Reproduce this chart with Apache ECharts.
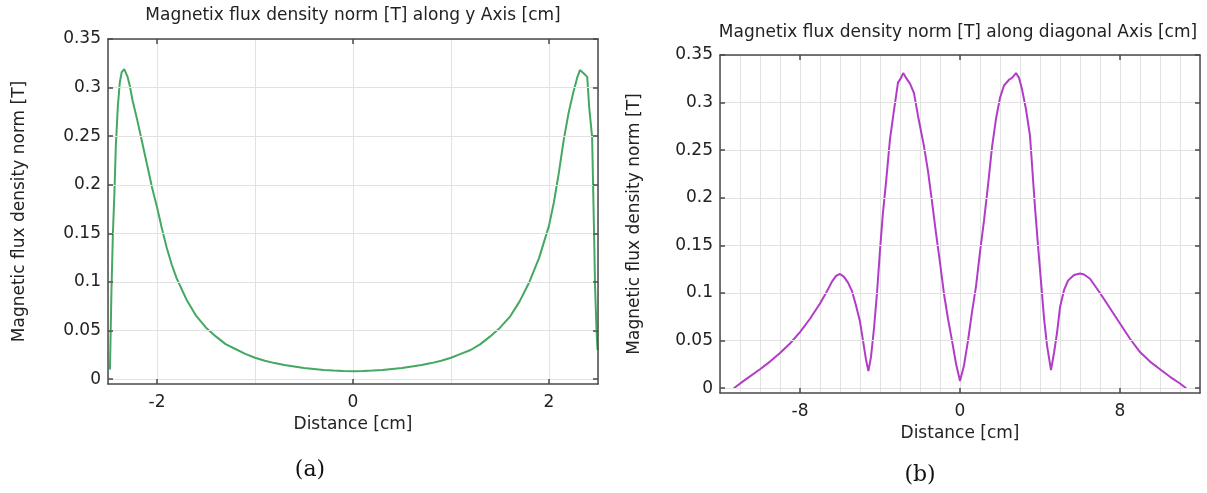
<!DOCTYPE html>
<html><head><meta charset="utf-8">
<script src="https://cdn.jsdelivr.net/npm/echarts@6/dist/echarts.min.js"></script>
<style>html,body{margin:0;padding:0;background:#fff}#c{width:1207px;height:493px}</style>
</head><body><div id="c"></div>
<script>
// (a) along y axis
const distA = [-2.48,-2.465,-2.45,-2.435,-2.42,-2.40,-2.38,-2.36,-2.335,-2.32,-2.30,-2.28,-2.25,-2.20,-2.15,-2.10,-2.05,-2.00,-1.95,-1.90,-1.85,-1.80,-1.75,-1.70,-1.60,-1.50,-1.40,-1.30,-1.20,-1.10,-1.00,-0.90,-0.80,-0.70,-0.60,-0.50,-0.40,-0.30,-0.20,-0.10,0,
  0.10,0.20,0.30,0.40,0.50,0.60,0.70,0.80,0.90,1.00,1.10,1.20,1.30,1.40,1.50,1.60,1.70,1.80,1.90,2.00,2.05,2.10,2.15,2.20,2.25,2.29,2.316,2.35,2.39,2.41,2.44,2.46,2.47,2.485,2.495];
const fluxA = [0.010,0.090,0.150,0.190,0.240,0.280,0.305,0.316,0.319,0.318,0.311,0.303,0.287,0.266,0.243,0.220,0.197,0.177,0.155,0.135,0.118,0.104,0.093,0.082,0.065,0.053,0.044,0.036,0.031,0.026,0.022,0.019,0.0165,0.0145,0.013,0.0115,0.0105,0.0095,0.0088,0.0083,0.0081,
  0.0083,0.0088,0.0095,0.0105,0.0115,0.013,0.0145,0.0165,0.019,0.022,0.026,0.030,0.036,0.044,0.053,0.064,0.080,0.100,0.125,0.158,0.182,0.212,0.246,0.274,0.296,0.311,0.318,0.315,0.311,0.280,0.249,0.150,0.095,0.050,0.030];
// (b) along diagonal
const distB = [-11.31,-10.8,-10.0,-9.5,-9.0,-8.5,-8.0,-7.5,-7.0,-6.7,-6.4,-6.2,-6.0,-5.8,-5.6,-5.4,-5.2,-5.0,-4.85,-4.7,-4.58,-4.45,-4.3,-4.15,-4.0,-3.85,-3.7,-3.5,-3.3,-3.1,-2.95,-2.84,-2.7,-2.5,-2.3,-2.1,-1.8,-1.6,-1.4,-1.2,-1.0,-0.8,-0.6,-0.4,-0.2,0,
  0.2,0.4,0.6,0.8,1.0,1.2,1.4,1.6,1.8,2.0,2.2,2.45,2.6,2.8,2.95,3.1,3.3,3.5,3.6,3.75,3.9,4.05,4.2,4.35,4.55,4.7,4.85,5.0,5.2,5.4,5.7,6.0,6.2,6.5,7.0,7.5,8.0,8.5,9.0,9.5,10.0,10.5,11.0,11.31];
const fluxB = [0.000,0.008,0.020,0.028,0.037,0.047,0.059,0.073,0.089,0.100,0.112,0.118,0.120,0.117,0.111,0.102,0.087,0.070,0.050,0.030,0.018,0.033,0.063,0.100,0.145,0.185,0.216,0.262,0.292,0.321,0.326,0.331,0.326,0.320,0.310,0.286,0.254,0.228,0.196,0.163,0.132,0.099,0.073,0.050,0.026,0.0077,
  0.024,0.050,0.080,0.107,0.143,0.176,0.213,0.253,0.283,0.305,0.318,0.324,0.326,0.331,0.326,0.314,0.293,0.265,0.235,0.190,0.150,0.112,0.074,0.045,0.019,0.037,0.058,0.085,0.103,0.113,0.119,0.1205,0.1195,0.115,0.100,0.084,0.068,0.052,0.038,0.028,0.020,0.012,0.005,0.000];
const yTicks = [0,0.05,0.1,0.15,0.2,0.25,0.3,0.35];
const xTicksA = [-2,0,2];
const xTicksB = [-8,0,8];
const titleA = 'Magnetix flux density norm [T] along y Axis [cm]';
const titleB = 'Magnetix flux density norm [T] along diagonal Axis [cm]';
const xName = 'Distance [cm]';
const yName = 'Magnetic flux density norm [T]';
const panelLabels = ['(a)', '(b)'];

const FONT = 'DejaVu Sans';
const TXT = '#222';
const AX = '#4a4a4a';
const GRIDC = '#e2e2e2';

function xAx(gi, min, max, split, ticks, top, gap) {
  return {
    type: 'value', gridIndex: gi, min: min, max: max, splitNumber: split,
    position: top ? 'top' : 'bottom', z: 5,
    axisLine: {show: true, onZero: false, lineStyle: {color: AX, width: 1.5}},
    axisTick: {show: true, inside: true, length: 5, customValues: ticks, lineStyle: {color: AX, width: 1.5}},
    axisLabel: {show: !top, customValues: ticks, margin: 10, color: TXT, fontFamily: FONT, fontSize: 17},
    splitLine: {show: false},
    name: top ? '' : xName, nameLocation: 'middle', nameGap: gap,
    nameTextStyle: {color: TXT, fontFamily: FONT, fontSize: 17}
  };
}
// hidden axis that only carries the vertical grid lines (every 1 cm)
function xGridAx(gi, min, max, split) {
  return {
    type: 'value', gridIndex: gi, min: min, max: max, splitNumber: split, position: 'bottom',
    axisLine: {show: false, onZero: false}, axisTick: {show: false}, axisLabel: {show: false},
    splitLine: {show: true, lineStyle: {color: GRIDC, width: 1}}
  };
}
function yAx(gi, right, gap) {
  return {
    type: 'value', gridIndex: gi, min: -0.005, max: 0.35, splitNumber: 7,
    position: right ? 'right' : 'left', z: 5,
    axisLine: {show: true, onZero: false, lineStyle: {color: AX, width: 1.5}},
    axisTick: {show: true, inside: true, length: 5, customValues: yTicks, lineStyle: {color: AX, width: 1.5}},
    axisLabel: {show: !right, customValues: yTicks, margin: 7, color: TXT, fontFamily: FONT, fontSize: 17},
    splitLine: {show: !right, lineStyle: {color: GRIDC, width: 1}},
    name: right ? '' : yName, nameLocation: 'middle', nameGap: gap,
    nameTextStyle: {color: TXT, fontFamily: FONT, fontSize: 17}
  };
}

const chart = echarts.init(document.getElementById('c'), null, {renderer: 'canvas'});
chart.setOption({
  backgroundColor: '#fff',
  animation: false,
  title: [
    {text: titleA, left: 353, top: 7, textAlign: 'center', padding: 0, textStyle: {color: TXT, fontFamily: FONT, fontSize: 17, fontWeight: 'normal'}},
    {text: titleB, left: 958, top: 24, textAlign: 'center', padding: 0, textStyle: {color: TXT, fontFamily: FONT, fontSize: 17, fontWeight: 'normal'}},
    {text: panelLabels[0], left: 310, top: 459, textAlign: 'center', padding: 0, textStyle: {color: '#111', fontFamily: 'DejaVu Serif', fontSize: 22, fontWeight: 'normal'}},
    {text: panelLabels[1], left: 920, top: 464, textAlign: 'center', padding: 0, textStyle: {color: '#111', fontFamily: 'DejaVu Serif', fontSize: 22, fontWeight: 'normal'}}
  ],
  grid: [
    {left: 108, right: 609, top: 39, bottom: 109, containLabel: false},
    {left: 720, right: 7, top: 55, bottom: 100, containLabel: false}
  ],
  xAxis: [
    xAx(0, -2.5, 2.5, 5, xTicksA, false, 29),
    xAx(0, -2.5, 2.5, 5, xTicksA, true, 0),
    xAx(1, -12, 12, 24, xTicksB, false, 28),
    xAx(1, -12, 12, 24, xTicksB, true, 0),
    xGridAx(0, -2.5, 2.5, 5),
    xGridAx(1, -12, 12, 24)
  ],
  yAxis: [
    yAx(0, false, 80),
    yAx(0, true, 0),
    yAx(1, false, 77),
    yAx(1, true, 0)
  ],
  series: [
    {type: 'line', xAxisIndex: 0, yAxisIndex: 0, showSymbol: false, symbol: 'none', z: 3,
     data: distA.map((x, i) => [x, fluxA[i]]), lineStyle: {color: '#44a862', width: 2}, itemStyle: {color: '#44a862'}},
    {type: 'line', xAxisIndex: 2, yAxisIndex: 2, showSymbol: false, symbol: 'none', z: 3,
     data: distB.map((x, i) => [x, fluxB[i]]), lineStyle: {color: '#b23cc8', width: 2}, itemStyle: {color: '#b23cc8'}}
  ]
});
</script></body></html>
